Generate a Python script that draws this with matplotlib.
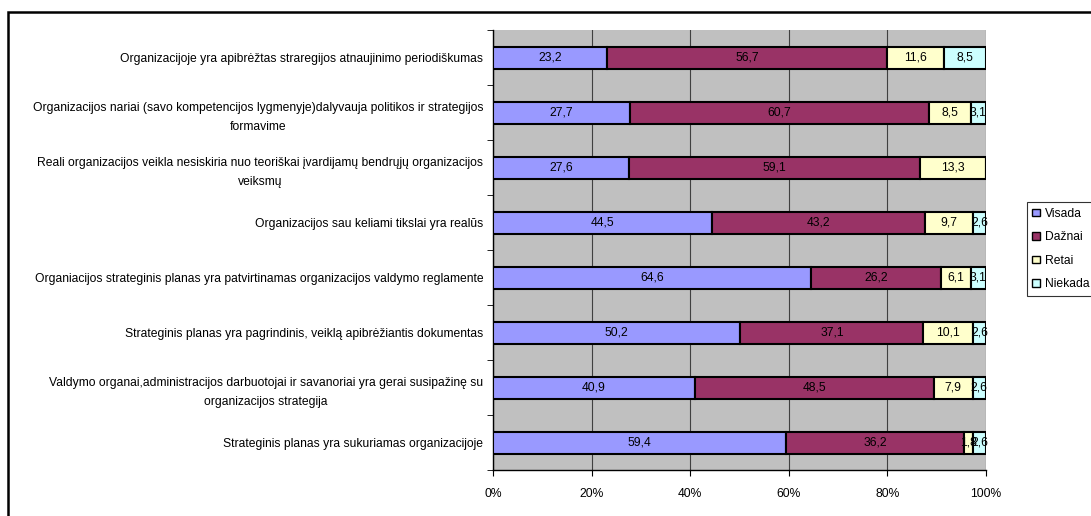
import numpy as np
import matplotlib
matplotlib.use('Agg')
import matplotlib.pyplot as plt
from matplotlib.patches import Rectangle, Patch

plt.rcParams['font.family'] = ['Liberation Sans', 'DejaVu Sans']
fs = 8.7

# statements, top to bottom
labels = [
    'Organizacijoje yra apibrėžtas straregijos atnaujinimo periodiškumas',
    'Organizacijos nariai (savo kompetencijos lygmenyje)dalyvauja politikos ir strategijos\nformavime',
    'Reali organizacijos veikla nesiskiria nuo teoriškai įvardijamų bendrųjų organizacijos\nveiksmų',
    'Organizacijos sau keliami tikslai yra realūs',
    'Organiacijos strateginis planas yra patvirtinamas organizacijos valdymo reglamente',
    'Strateginis planas yra pagrindinis, veiklą apibrėžiantis dokumentas',
    'Valdymo organai,administracijos darbuotojai ir savanoriai yra gerai susipažinę su\norganizacijos strategija',
    'Strateginis planas yra sukuriamas organizacijoje',
]
series = ['Visada', 'Dažnai', 'Retai', 'Niekada']
visada = [23.2, 27.7, 27.6, 44.5, 64.6, 50.2, 40.9, 59.4]
daznai = [56.7, 60.7, 59.1, 43.2, 26.2, 37.1, 48.5, 36.2]
retai = [11.6, 8.5, 13.3, 9.7, 6.1, 10.1, 7.9, 1.8]
niekada = [8.5, 3.1, 0.0, 2.6, 3.1, 2.6, 2.6, 2.6]
colors = ['#9999FF', '#993366', '#FFFFCC', '#CCFFFF']

fig = plt.figure(figsize=(10.91, 5.16), dpi=100)
ax = fig.add_axes([493 / 1091, 1 - 470 / 516, 493 / 1091, 440 / 516])

# chart area frame (right and bottom edges run off the page)
fig.add_artist(Rectangle((8 / 1091, -0.1), 1.2, 1 - 12 / 516 + 0.1,
                         transform=fig.transFigure, fill=False,
                         edgecolor='black', linewidth=1.8))

n = len(labels)
y = np.arange(n)
left = np.zeros(n)
for name, vals, c in zip(series, [visada, daznai, retai, niekada], colors):
    vals = np.array(vals)
    ax.barh(y, vals, left=left, height=0.4, color=c, edgecolor='black',
            linewidth=1.5, label=name, zorder=3)
    for yi, l, v in zip(y, left, vals):
        if v > 0:
            ax.text(l + v / 2, yi, f'{v:.1f}'.replace('.', ','), ha='center',
                    va='center', fontsize=fs, zorder=4)
    left += vals

ax.set_facecolor('#C0C0C0')
ax.set_xlim(0, 100)
ax.set_ylim(n - 0.5, -0.5)
ax.set_xticks(np.arange(0, 101, 20))
ax.set_xticklabels([f'{t}%' for t in range(0, 101, 20)], fontsize=fs)
ax.tick_params(axis='x', length=4, pad=9)
ax.xaxis.grid(True, color='#404040', linewidth=0.8, zorder=0)
ax.set_axisbelow(True)

ax.set_yticks(y)
ax.set_yticklabels(labels, fontsize=fs, multialignment='center', linespacing=1.75)
ax.tick_params(axis='y', length=0, pad=7)
ax.set_yticks(np.arange(n + 1) - 0.5, minor=True)
ax.tick_params(axis='y', which='minor', length=4)

for s in ['top', 'right']:
    ax.spines[s].set_visible(False)
ax.spines['left'].set_linewidth(1.0)
ax.spines['bottom'].set_linewidth(1.0)

handles = [Patch(facecolor=c, edgecolor='black', linewidth=1.0) for c in colors]
leg = fig.legend(handles, series, loc='center left',
                 bbox_to_anchor=(1027 / 1091, 1 - 249 / 516), fontsize=fs,
                 frameon=True, fancybox=False, edgecolor='black',
                 handlelength=0.6, handleheight=0.6, handletextpad=0.4,
                 labelspacing=0.95, borderpad=0.45, borderaxespad=0)
leg.get_frame().set_linewidth(0.8)

fig.savefig('out.png', dpi=100)
